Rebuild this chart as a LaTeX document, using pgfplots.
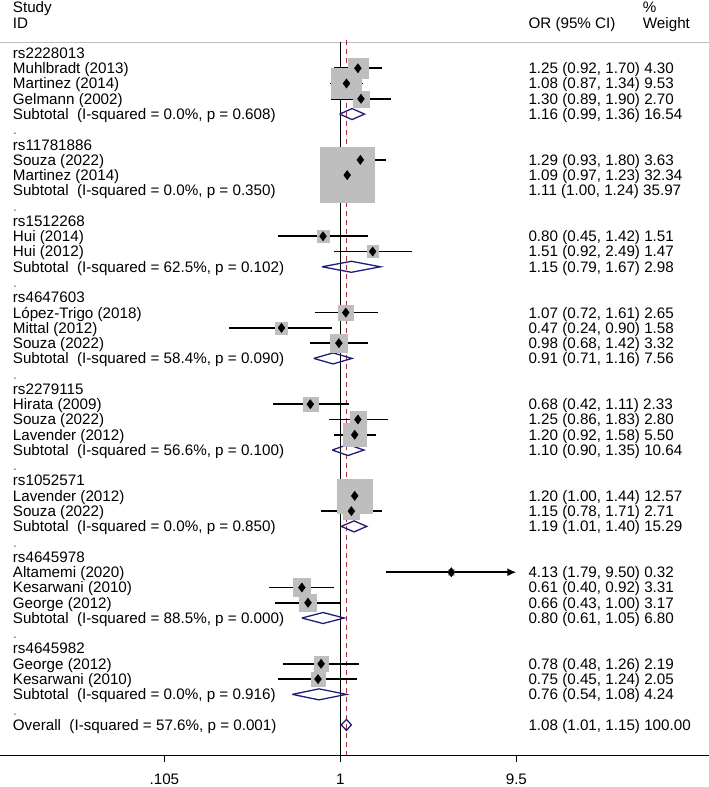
\documentclass[border=0pt]{standalone}
\usepackage{pgfplots}
\usepackage{pgfplotstable}
\pgfplotsset{compat=1.18}
\usetikzlibrary{arrows.meta}
\usepackage{fontspec}
\setmainfont{Liberation Sans}
\definecolor{boxgray}{RGB}{190,190,190}
\definecolor{dnavy}{RGB}{30,30,120}
\definecolor{dred}{RGB}{175,45,55}
\definecolor{topline}{RGB}{190,190,190}

\pgfplotstableread{
r or lo hi w
2 1.25 0.92 1.70 4.30
3 1.08 0.87 1.34 9.53
4 1.30 0.89 1.90 2.70
8 1.29 0.93 1.80 3.63
9 1.09 0.97 1.23 32.34
13 0.80 0.45 1.42 1.51
14 1.51 0.92 2.49 1.47
18 1.07 0.72 1.61 2.65
19 0.47 0.24 0.90 1.58
20 0.98 0.68 1.42 3.32
24 0.68 0.42 1.11 2.33
25 1.25 0.86 1.83 2.80
26 1.20 0.92 1.58 5.50
30 1.20 1.00 1.44 12.57
31 1.15 0.78 1.71 2.71
35 4.13 1.79 9.50 0.32
36 0.61 0.40 0.92 3.31
37 0.66 0.43 1.00 3.17
41 0.78 0.48 1.26 2.19
42 0.75 0.45 1.24 2.05
}\studies

\newcommand{\lab}[2]{\node[anchor=base west, inner sep=0pt, xshift=12.7pt, yshift=-5.4pt] at (axis cs:0.01281,#1) {#2};}
\newcommand{\orc}[2]{\node[anchor=base west, inner sep=0pt, xshift=528.3pt, yshift=-5.4pt] at (axis cs:0.01281,#1) {#2};}
\newcommand{\dotrow}[1]{\node[anchor=base west, inner sep=0pt, xshift=12.7pt, yshift=-5.4pt, text=gray] at (axis cs:0.01281,#1) {.};}

\begin{document}
\fontsize{15.2}{15.27}\selectfont
\begin{tikzpicture}
\begin{axis}[
  scale only axis, width=709pt, height=755pt,
  xmode=log, xmin=0.01281, xmax=111.8,
  ymin=-46.97, ymax=2.471,
  axis x line=bottom, axis y line=none,
  axis line style={-, black, line width=0.9pt},
  xtick={0.105,1,9.5}, xticklabels={.105,1,9.5},
  minor xtick={},
  tick align=outside, major tick length=7pt,
  xtick style={black, line width=0.9pt},
  xticklabel style={font=\fontsize{15.2}{16}\selectfont, inner sep=0pt, yshift=-12pt},
  clip=false,
  ci/.style={black, line width=1.6pt, forget plot},
]
% top rule
\addplot[topline, line width=0.9pt, forget plot] coordinates {(0.01281,-0.28) (111.8,-0.28)};
% null line and overall line
\addplot[black, line width=0.9pt] coordinates {(1,-0.28) (1,-46.97)};
\addplot[dred, line width=0.9pt, dash pattern=on 5pt off 4pt] coordinates {(1.08,-0.15) (1.08,-46.97)};
% weight boxes
\addplot[scatter, only marks, mark=square*,
  scatter/use mapped color={draw=boxgray, fill=boxgray},
  visualization depends on={4.835*sqrt(\thisrow{w}) \as \ms},
  scatter/@pre marker code/.append style={/tikz/mark size=\ms}]
  table[x=or, y expr=-\thisrow{r}] {\studies};
% confidence intervals
\addplot[ci] coordinates {(0.92,-2) (1.70,-2)};
\addplot[ci] coordinates {(0.87,-3) (1.34,-3)};
\addplot[ci] coordinates {(0.89,-4) (1.90,-4)};
\addplot[ci] coordinates {(0.93,-8) (1.80,-8)};
\addplot[ci] coordinates {(0.97,-9) (1.23,-9)};
\addplot[ci] coordinates {(0.45,-13) (1.42,-13)};
\addplot[ci] coordinates {(0.92,-14) (2.49,-14)};
\addplot[ci] coordinates {(0.72,-18) (1.61,-18)};
\addplot[ci] coordinates {(0.24,-19) (0.90,-19)};
\addplot[ci] coordinates {(0.68,-20) (1.42,-20)};
\addplot[ci] coordinates {(0.42,-24) (1.11,-24)};
\addplot[ci] coordinates {(0.86,-25) (1.83,-25)};
\addplot[ci] coordinates {(0.92,-26) (1.58,-26)};
\addplot[ci] coordinates {(1.00,-30) (1.44,-30)};
\addplot[ci] coordinates {(0.78,-31) (1.71,-31)};
\addplot[ci, -{Latex[length=9pt,width=8pt]}] coordinates {(1.79,-35) (9.50,-35)};
\addplot[ci] coordinates {(0.40,-36) (0.92,-36)};
\addplot[ci] coordinates {(0.43,-37) (1.00,-37)};
\addplot[ci] coordinates {(0.48,-41) (1.26,-41)};
\addplot[ci] coordinates {(0.45,-42) (1.24,-42)};
% point estimates
\addplot[only marks, mark=diamond*, mark size=4.6pt, black] table[x=or, y expr=-\thisrow{r}] {\studies};
% pooled diamonds
\addplot[dnavy, line width=1.3pt] coordinates {(0.99,-5) (1.16,-4.64) (1.36,-5) (1.16,-5.36) (0.99,-5)};
\addplot[dnavy, line width=1.3pt] coordinates {(1.00,-10) (1.11,-9.64) (1.24,-10) (1.11,-10.36) (1.00,-10)};
\addplot[dnavy, line width=1.3pt] coordinates {(0.79,-15) (1.15,-14.64) (1.67,-15) (1.15,-15.36) (0.79,-15)};
\addplot[dnavy, line width=1.3pt] coordinates {(0.71,-21) (0.91,-20.64) (1.16,-21) (0.91,-21.36) (0.71,-21)};
\addplot[dnavy, line width=1.3pt] coordinates {(0.90,-27) (1.10,-26.64) (1.35,-27) (1.10,-27.36) (0.90,-27)};
\addplot[dnavy, line width=1.3pt] coordinates {(1.01,-32) (1.19,-31.64) (1.40,-32) (1.19,-32.36) (1.01,-32)};
\addplot[dnavy, line width=1.3pt] coordinates {(0.61,-38) (0.80,-37.64) (1.05,-38) (0.80,-38.36) (0.61,-38)};
\addplot[dnavy, line width=1.3pt] coordinates {(0.54,-43) (0.76,-42.64) (1.08,-43) (0.76,-43.36) (0.54,-43)};
\addplot[dnavy, line width=1.3pt] coordinates {(1.01,-45) (1.08,-44.64) (1.15,-45) (1.08,-45.36) (1.01,-45)};

% headers
\lab{2.01}{Study}
\lab{0.965}{ID}
\orc{0.965}{OR (95\% CI)}
\node[anchor=base west, inner sep=0pt, xshift=642.7pt, yshift=-5.4pt] at (axis cs:0.01281,2.01) {\%};
\node[anchor=base west, inner sep=0pt, xshift=642.7pt, yshift=-5.4pt] at (axis cs:0.01281,0.965) {Weight};

% study labels
\lab{-1}{rs2228013}
\lab{-2}{Muhlbradt (2013)}\orc{-2}{1.25 (0.92, 1.70) 4.30}
\lab{-3}{Martinez (2014)}\orc{-3}{1.08 (0.87, 1.34) 9.53}
\lab{-4}{Gelmann (2002)}\orc{-4}{1.30 (0.89, 1.90) 2.70}
\lab{-5}{Subtotal\ \ (I-squared = 0.0\%, p = 0.608)}\orc{-5}{1.16 (0.99, 1.36) 16.54}
\dotrow{-6}
\lab{-7}{rs11781886}
\lab{-8}{Souza (2022)}\orc{-8}{1.29 (0.93, 1.80) 3.63}
\lab{-9}{Martinez (2014)}\orc{-9}{1.09 (0.97, 1.23) 32.34}
\lab{-10}{Subtotal\ \ (I-squared = 0.0\%, p = 0.350)}\orc{-10}{1.11 (1.00, 1.24) 35.97}
\dotrow{-11}
\lab{-12}{rs1512268}
\lab{-13}{Hui (2014)}\orc{-13}{0.80 (0.45, 1.42) 1.51}
\lab{-14}{Hui (2012)}\orc{-14}{1.51 (0.92, 2.49) 1.47}
\lab{-15}{Subtotal\ \ (I-squared = 62.5\%, p = 0.102)}\orc{-15}{1.15 (0.79, 1.67) 2.98}
\dotrow{-16}
\lab{-17}{rs4647603}
\lab{-18}{López-Trigo (2018)}\orc{-18}{1.07 (0.72, 1.61) 2.65}
\lab{-19}{Mittal (2012)}\orc{-19}{0.47 (0.24, 0.90) 1.58}
\lab{-20}{Souza (2022)}\orc{-20}{0.98 (0.68, 1.42) 3.32}
\lab{-21}{Subtotal\ \ (I-squared = 58.4\%, p = 0.090)}\orc{-21}{0.91 (0.71, 1.16) 7.56}
\dotrow{-22}
\lab{-23}{rs2279115}
\lab{-24}{Hirata (2009)}\orc{-24}{0.68 (0.42, 1.11) 2.33}
\lab{-25}{Souza (2022)}\orc{-25}{1.25 (0.86, 1.83) 2.80}
\lab{-26}{Lavender (2012)}\orc{-26}{1.20 (0.92, 1.58) 5.50}
\lab{-27}{Subtotal\ \ (I-squared = 56.6\%, p = 0.100)}\orc{-27}{1.10 (0.90, 1.35) 10.64}
\dotrow{-28}
\lab{-29}{rs1052571}
\lab{-30}{Lavender (2012)}\orc{-30}{1.20 (1.00, 1.44) 12.57}
\lab{-31}{Souza (2022)}\orc{-31}{1.15 (0.78, 1.71) 2.71}
\lab{-32}{Subtotal\ \ (I-squared = 0.0\%, p = 0.850)}\orc{-32}{1.19 (1.01, 1.40) 15.29}
\dotrow{-33}
\lab{-34}{rs4645978}
\lab{-35}{Altamemi (2020)}\orc{-35}{4.13 (1.79, 9.50) 0.32}
\lab{-36}{Kesarwani (2010)}\orc{-36}{0.61 (0.40, 0.92) 3.31}
\lab{-37}{George (2012)}\orc{-37}{0.66 (0.43, 1.00) 3.17}
\lab{-38}{Subtotal\ \ (I-squared = 88.5\%, p = 0.000)}\orc{-38}{0.80 (0.61, 1.05) 6.80}
\dotrow{-39}
\lab{-40}{rs4645982}
\lab{-41}{George (2012)}\orc{-41}{0.78 (0.48, 1.26) 2.19}
\lab{-42}{Kesarwani (2010)}\orc{-42}{0.75 (0.45, 1.24) 2.05}
\lab{-43}{Subtotal\ \ (I-squared = 0.0\%, p = 0.916)}\orc{-43}{0.76 (0.54, 1.08) 4.24}
\dotrow{-44}
\lab{-45}{Overall\ \ (I-squared = 57.6\%, p = 0.001)}\orc{-45}{1.08 (1.01, 1.15) 100.00}
\end{axis}
\pgfresetboundingbox
\path (0pt,-32pt) rectangle (709pt,755pt);
\end{tikzpicture}
\end{document}
